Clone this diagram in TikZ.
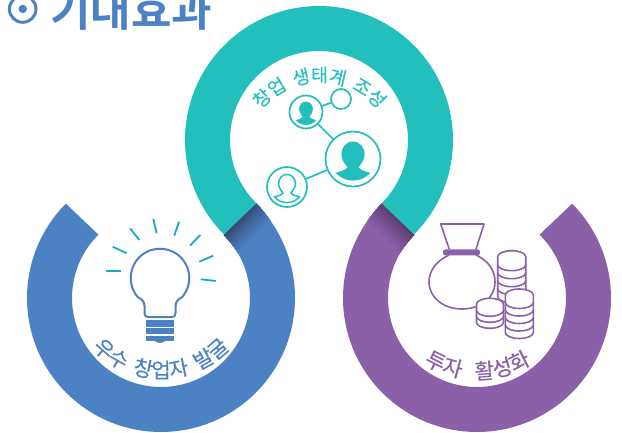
\documentclass[tikz,border=0pt]{standalone}
\usepackage{fontspec}
\usetikzlibrary{decorations.text}
\newfontfamily\kofont[FakeBold=0.25]{Noto Sans CJK KR}
\newfontfamily\kobold[BoldFont={Noto Sans CJK KR Bold}]{Noto Sans CJK KR}
\definecolor{tealc}{HTML}{22BFBD}
\definecolor{bluec}{HTML}{4C82C3}
\definecolor{purplec}{HTML}{8A61A9}
\definecolor{rayc}{HTML}{1BA5C8}
\definecolor{darkblue}{HTML}{34466C}
\definecolor{darkpurple}{HTML}{563A68}
\tikzset{
  ring/.style={line width=45pt},
  peer/.style={circle,draw=tealc,line width=1.7pt,fill=white,inner sep=0pt},
  peerlink/.style={draw=tealc,line width=1.7pt},
  raystroke/.style={draw=rayc,line width=1.8pt},
  outline/.style={draw=purplec,line width=1.6pt,line join=round},
  curved/.style={decorate,decoration={text along path,text={#1},text align=center}}
}
\newcommand{\tealfont}{\kofont\fontsize{18.5}{20}\selectfont}
\newcommand{\bluefont}{\kofont\fontsize{21}{23}\selectfont}
\newcommand{\purplefont}{\kofont\fontsize{21.5}{23}\selectfont}
% cx, top cy, coins, height, rx
\newcommand{\coinstack}[5]{%
  \foreach \i in {#3,...,0}{%
    \pgfmathsetmacro{\yy}{#2+\i*#4}%
    \filldraw[outline,fill=white] (#1-#5,\yy) -- (#1-#5,\yy+#4) arc[start angle=180,end angle=360,x radius=#5pt,y radius=6pt] -- (#1+#5,\yy) arc[start angle=0,end angle=180,x radius=#5pt,y radius=6pt] -- cycle;
  }%
}
\newcommand{\headshoulders}{
  (0,-0.63) .. controls (0.26,-0.63) and (0.42,-0.42) .. (0.42,-0.15)
  .. controls (0.42,0.05) and (0.26,0.2) .. (0.2,0.3)
  .. controls (0.26,0.4) and (0.45,0.44) .. (0.62,0.5)
  .. controls (0.42,0.72) and (0.2,0.78) .. (0,0.78)
  .. controls (-0.2,0.78) and (-0.42,0.72) .. (-0.62,0.5)
  .. controls (-0.45,0.44) and (-0.26,0.4) .. (-0.2,0.3)
  .. controls (-0.26,0.2) and (-0.42,0.05) .. (-0.42,-0.15)
  .. controls (-0.42,-0.42) and (-0.26,-0.63) .. (0,-0.63) -- cycle}
\begin{document}
\begin{tikzpicture}[x=1pt,y=-1pt]
\useasboundingbox (0,0) rectangle (622,433);
\coordinate (bc) at (161,298);
\coordinate (tc) at (319,140);
\coordinate (pc) at (477,298);
\coordinate (bulbc) at (160,278);
\coordinate (ttext) at (319.5,158);
\coordinate (btext) at (161,284);
\coordinate (ptext) at (477.5,278);
% rings
\draw[ring,bluec] ([shift={(135:111.5pt)}]bc) arc[start angle=135,end angle=405,radius=111.5pt];
\draw[ring,purplec] ([shift={(135:111.5pt)}]pc) arc[start angle=135,end angle=405,radius=111.5pt];
% shadows
\begin{scope}
  \clip ([shift={(45:134pt)}]bc) arc[start angle=45,end angle=10,radius=134pt]
     -- ([shift={(10:89pt)}]bc) arc[start angle=10,end angle=45,radius=89pt] -- cycle;
  \begin{scope}[shift={(240,219)},rotate=45]
    \foreach \d in {24,23,...,0}{
      \pgfmathsetmacro{\p}{100*(\d/24)^0.8}
      \fill[bluec!\p!darkblue] (-40,-3) rectangle (40,\d);
    }
  \end{scope}
\end{scope}
\begin{scope}
  \clip ([shift={(135:134pt)}]pc) arc[start angle=135,end angle=170,radius=134pt]
     -- ([shift={(170:89pt)}]pc) arc[start angle=170,end angle=135,radius=89pt] -- cycle;
  \begin{scope}[shift={(398,219)},rotate=-45]
    \foreach \d in {24,23,...,0}{
      \pgfmathsetmacro{\p}{100*(\d/24)^0.8}
      \fill[purplec!\p!darkpurple] (-40,-3) rectangle (40,\d);
    }
  \end{scope}
\end{scope}
\draw[ring,tealc] ([shift={(225:111.5pt)}]tc) arc[start angle=225,end angle=-45,radius=111.5pt];
% title
\draw[bluec,line width=3pt] (22.7,9) circle[radius=13.3pt];
\fill[bluec] (22.7,9) circle[radius=4.2pt];
\node[anchor=base west,inner sep=0pt,text=bluec] (title) at (50,27) {\kobold\bfseries\fontsize{44}{46}\selectfont 기대효과};
% curved labels
\path[curved={|\tealfont\color{tealc}|창업 {\kern3pt}생태계 {\kern3pt}조성}] ([shift={(170:76pt)}]ttext) arc[start angle=170,end angle=10,radius=76pt];
\path[curved={|\bluefont\color{bluec}|우수 {\kern5pt}창업자 {\kern5pt}발굴}] ([shift={(190:94pt)}]btext) arc[start angle=190,end angle=350,radius=94pt];
\path[curved={|\purplefont\color{purplec}|투자 {\kern10pt}활성화}] ([shift={(200:101pt)}]ptext) arc[start angle=200,end angle=340,radius=101pt];
% network
\node[peer,minimum size=33pt] (pa) at (306,112) {};
\node[peer,minimum size=20pt] (pb) at (341,99) {};
\node[peer,minimum size=55pt] (pc2) at (353,159) {};
\node[peer,minimum size=40pt] (pd) at (287,187) {};
\draw[peerlink] (pa) -- (pb);
\draw[peerlink] (pa) -- (pc2);
\draw[peerlink] (pc2) -- (pd);
\begin{scope}[shift={(pa)},scale=16.5]
  \fill[tealc,x=1pt,y=-1pt] \headshoulders;
\end{scope}
\begin{scope}[shift={(pc2)},scale=27.7]
  \fill[tealc,x=1pt,y=-1pt] \headshoulders;
\end{scope}
\begin{scope}[shift={(pd)},scale=20]
  \draw[tealc,line width=1.5pt,x=1pt,y=-1pt] \headshoulders;
\end{scope}
% bulb
\draw[bluec,line width=2pt,fill=white,line join=round]
  ([shift={(220:29.3pt)}]bulbc) arc[start angle=220,end angle=-40,radius=29.3pt]
  .. controls (179,299) and (175.5,301) .. (175.5,306) -- (175.5,313)
  .. controls (175.5,316) and (174,317) .. (172,317) -- (148,317)
  .. controls (146,317) and (144.5,316) .. (144.5,313) -- (144.5,306)
  .. controls (144.5,301) and (141,299) .. cycle;
\fill[bluec] (146,320) rectangle (174,327);
\fill[bluec] (146,328) rectangle (174,334);
\fill[bluec] (146,335.5) rectangle (174,341);
\fill[bluec] (155,341) .. controls (157,343.5) and (163,343.5) .. (165,341) -- cycle;
% rays
\draw[raystroke] (106,270.7) -- (120.7,270.7);
\draw[raystroke] (112.7,246.7) -- (126.7,253.3);
\draw[raystroke] (130,228.3) -- (139.3,240);
\draw[raystroke] (153.3,219) -- (156.7,233.3);
\draw[raystroke] (179,221.7) -- (174.3,235.7);
\draw[raystroke] (200.3,235) -- (190,245.7);
\draw[raystroke] (213.3,255.7) -- (199.3,261.7);
\draw[raystroke] (215.7,281) -- (200.7,279.3);
% money bag
\draw[outline] (449.3,249.3) -- (440.7,224) -- (484,224) -- (476,249.3);
\draw[outline] (449,255) .. controls (436,261) and (429,271) .. (429,282)
  .. controls (429,298) and (444,309) .. (462,309)
  .. controls (481,309) and (495,298) .. (495,282)
  .. controls (495,271) and (489,261) .. (476,255);
\fill[purplec,rounded corners=2.5pt] (443,249.3) rectangle (480,255.5);
% coins
\coinstack{511.7}{256.7}{4}{8}{14}
\coinstack{490}{304.3}{2}{6}{13.5}
\coinstack{519.3}{295}{4}{7.5}{14}
\end{tikzpicture}
\end{document}
